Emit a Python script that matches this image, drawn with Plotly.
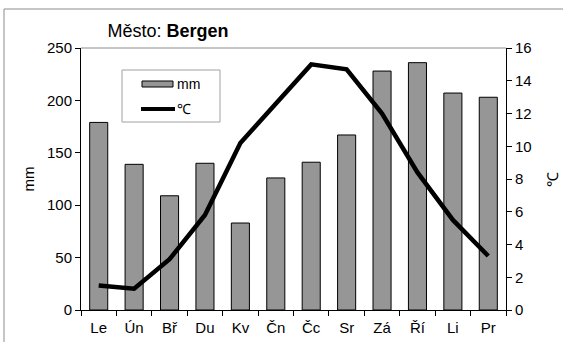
import plotly.graph_objects as go

# Monthly climate normals for Bergen
months = ["Le", "Ún", "Bř", "Du", "Kv", "Čn", "Čc", "Sr", "Zá", "Ří", "Li", "Pr"]
precip_mm = [179, 139, 109, 140, 83, 126, 141, 167, 228, 236, 207, 203]
temp_c = [1.5, 1.3, 3.1, 5.8, 10.2, 12.6, 15.0, 14.7, 12.0, 8.4, 5.5, 3.3]

W, H = 563, 342
L, R, T, B = 81, 57, 48, 32
PW, PH = W - L - R, H - T - B

FONT = "Arial, Liberation Sans, sans-serif"
BAR_FILL = "#969696"


def px(x):
    return (x - L) / PW


def py(y):
    return (H - B - y) / PH


fig = go.Figure()

fig.add_trace(go.Bar(
    x=months, y=precip_mm, name="mm",
    marker=dict(color=BAR_FILL, line=dict(color="black", width=1)),
    width=0.51, yaxis="y", showlegend=False,
))
fig.add_trace(go.Scatter(
    x=months, y=temp_c, name="℃", mode="lines",
    line=dict(color="black", width=4.5), yaxis="y2", showlegend=False,
))

shapes = [
    # outer chart frame
    dict(type="rect", xref="paper", yref="paper",
         x0=px(4), x1=px(W + 20), y0=py(H + 20), y1=py(9),
         line=dict(color="#8c8c8c", width=1)),
    # plot area frame (top edge)
    dict(type="line", xref="paper", yref="paper",
         x0=0, x1=1, y0=1, y1=1, line=dict(color="#8c8c8c", width=1)),
    # legend box
    dict(type="rect", xref="paper", yref="paper",
         x0=px(122), x1=px(220), y0=py(122), y1=py(70),
         fillcolor="white", line=dict(color="#a0a0a0", width=1)),
    # legend swatch: bars
    dict(type="rect", xref="paper", yref="paper",
         x0=px(142), x1=px(173), y0=py(87), y1=py(81),
         fillcolor=BAR_FILL, line=dict(color="black", width=1)),
    # legend swatch: line
    dict(type="line", xref="paper", yref="paper",
         x0=px(141), x1=px(175), y0=py(109), y1=py(109),
         line=dict(color="black", width=4)),
]

annotations = [
    dict(text="mm", xref="paper", yref="paper", x=px(175), y=py(84),
         xanchor="left", yanchor="middle", showarrow=False,
         font=dict(family=FONT, size=14, color="black")),
    dict(text="℃", xref="paper", yref="paper", x=px(175), y=py(109),
         xanchor="left", yanchor="middle", showarrow=False,
         font=dict(family=FONT, size=14, color="black")),
]

fig.update_layout(
    width=W, height=H,
    margin=dict(l=L, r=R, t=T, b=B, pad=0, autoexpand=False),
    paper_bgcolor="white", plot_bgcolor="white",
    font=dict(family=FONT, size=15, color="black"),
    title=dict(text="Město: <b>Bergen</b>", x=168 / W, y=1 - 31 / H,
               xanchor="center", yanchor="middle",
               font=dict(family=FONT, size=18, color="black")),
    xaxis=dict(showline=True, linecolor="black", linewidth=1,
               ticks="outside", ticklen=5, tickcolor="black",
               tickson="boundaries", showgrid=False, zeroline=False,
               ticklabelstandoff=4, automargin=False, tickfont=dict(size=15)),
    yaxis=dict(range=[0, 250], dtick=50, showline=True, linecolor="black",
               linewidth=1, ticks="outside", ticklen=5, tickcolor="black",
               showgrid=False, zeroline=False, automargin=False,
               title=dict(text="mm", standoff=8, font=dict(size=15)),
               tickfont=dict(size=15)),
    yaxis2=dict(range=[0, 16], dtick=2, overlaying="y", side="right",
                showline=True, linecolor="black", linewidth=1,
                ticks="outside", ticklen=5, tickcolor="black",
                showgrid=False, zeroline=False, automargin=False,
                title=dict(text="℃", standoff=16, font=dict(size=15)),
                tickfont=dict(size=15)),
    bargap=0.49,
    showlegend=False,
    shapes=shapes,
    annotations=annotations,
)

fig.write_html("out.html")
